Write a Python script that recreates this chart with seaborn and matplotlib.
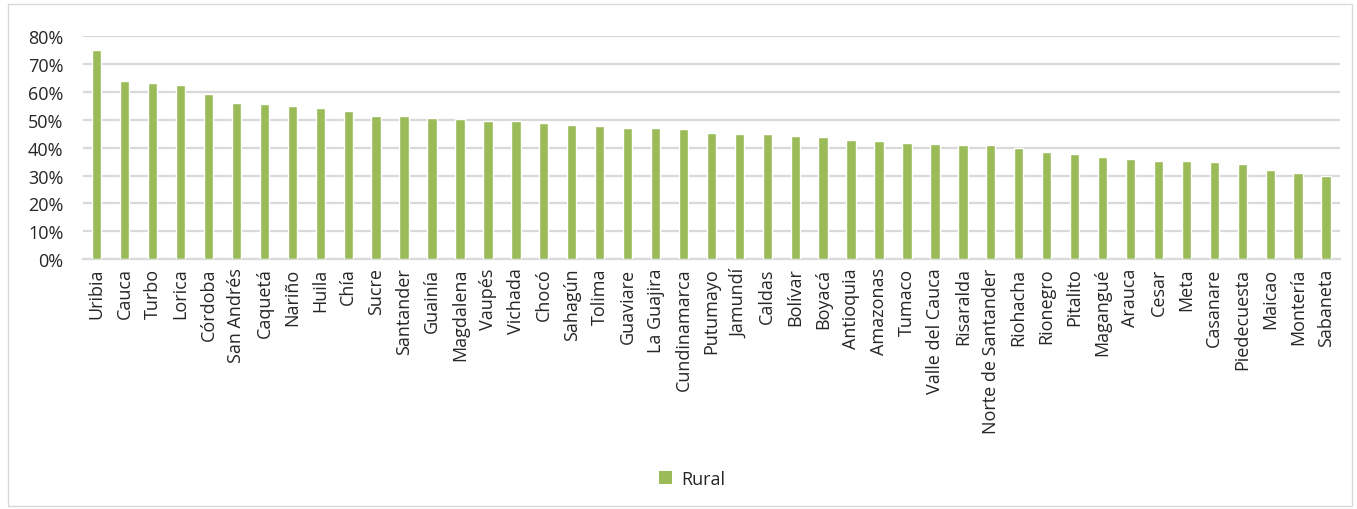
import matplotlib
matplotlib.use("Agg")
import matplotlib.pyplot as plt
import matplotlib.ticker as mticker
from matplotlib.patches import Rectangle, Patch
import seaborn as sns
import pandas as pd

categories = ["Uribia", "Cauca", "Turbo", "Lorica", "Córdoba", "San Andrés", "Caquetá",
              "Nariño", "Huila", "Chía", "Sucre", "Santander", "Guainía", "Magdalena",
              "Vaupés", "Vichada", "Chocó", "Sahagún", "Tolima", "Guaviare", "La Guajira",
              "Cundinamarca", "Putumayo", "Jamundí", "Caldas", "Bolívar", "Boyacá",
              "Antioquia", "Amazonas", "Tumaco", "Valle del Cauca", "Risaralda",
              "Norte de Santander", "Riohacha", "Rionegro", "Pitalito", "Magangué",
              "Arauca", "Cesar", "Meta", "Casanare", "Piedecuesta", "Maicao", "Montería",
              "Sabaneta"]
rural = [0.750, 0.640, 0.633, 0.624, 0.591, 0.559, 0.555,
         0.550, 0.543, 0.531, 0.515, 0.515, 0.506, 0.502,
         0.494, 0.494, 0.490, 0.481, 0.478, 0.469, 0.469,
         0.466, 0.453, 0.449, 0.449, 0.441, 0.437,
         0.429, 0.424, 0.417, 0.412, 0.408,
         0.408, 0.400, 0.383, 0.376, 0.368,
         0.359, 0.351, 0.351, 0.347, 0.343, 0.319, 0.310,
         0.299]
series_name = "Rural"

df = pd.DataFrame({"Municipio": categories, "Valor": rural})

GREEN = "#9BBB59"
TEXT = "#262626"

sns.set_theme(style="white")
plt.rcParams["font.family"] = ["Open Sans", "DejaVu Sans"]

fig = plt.figure(figsize=(13.57, 5.10), dpi=100)
ax = fig.add_axes([0.061, 0.490, 0.9265, 0.437])

sns.barplot(data=df, x="Municipio", y="Valor", color=GREEN, width=0.335,
            saturation=1, ax=ax, zorder=3)

ax.set_ylim(0, 0.8)
ax.set_xlim(-0.5, len(categories) - 0.5)
ax.yaxis.set_major_locator(mticker.MultipleLocator(0.1))
ax.yaxis.set_major_formatter(mticker.PercentFormatter(1.0, decimals=0))
ax.grid(axis="y", color="#D9D9D9", linewidth=1.6, zorder=0)
ax.set_axisbelow(True)
for s in ["top", "right", "left"]:
    ax.spines[s].set_visible(False)
ax.spines["bottom"].set_color("#D9D9D9")
ax.spines["bottom"].set_linewidth(1.6)
ax.set_xlabel("")
ax.set_ylabel("")
ax.tick_params(axis="x", rotation=90, labelsize=13, colors=TEXT, length=0, pad=6)
ax.tick_params(axis="y", labelsize=13, colors=TEXT, length=0, pad=14)

handles = [Patch(facecolor=GREEN, edgecolor="none", label=series_name)]
fig.legend(handles=handles, loc="center", bbox_to_anchor=(0.51, 0.059), frameon=False,
           fontsize=13, handlelength=0.7, handleheight=0.7, handletextpad=0.5,
           labelcolor=TEXT)

fig.patches.append(Rectangle((0.006, 0.006), 0.99, 0.985, transform=fig.transFigure,
                             fill=False, edgecolor="#D9D9D9", linewidth=1.0))

fig.savefig("out.png", dpi=100)
